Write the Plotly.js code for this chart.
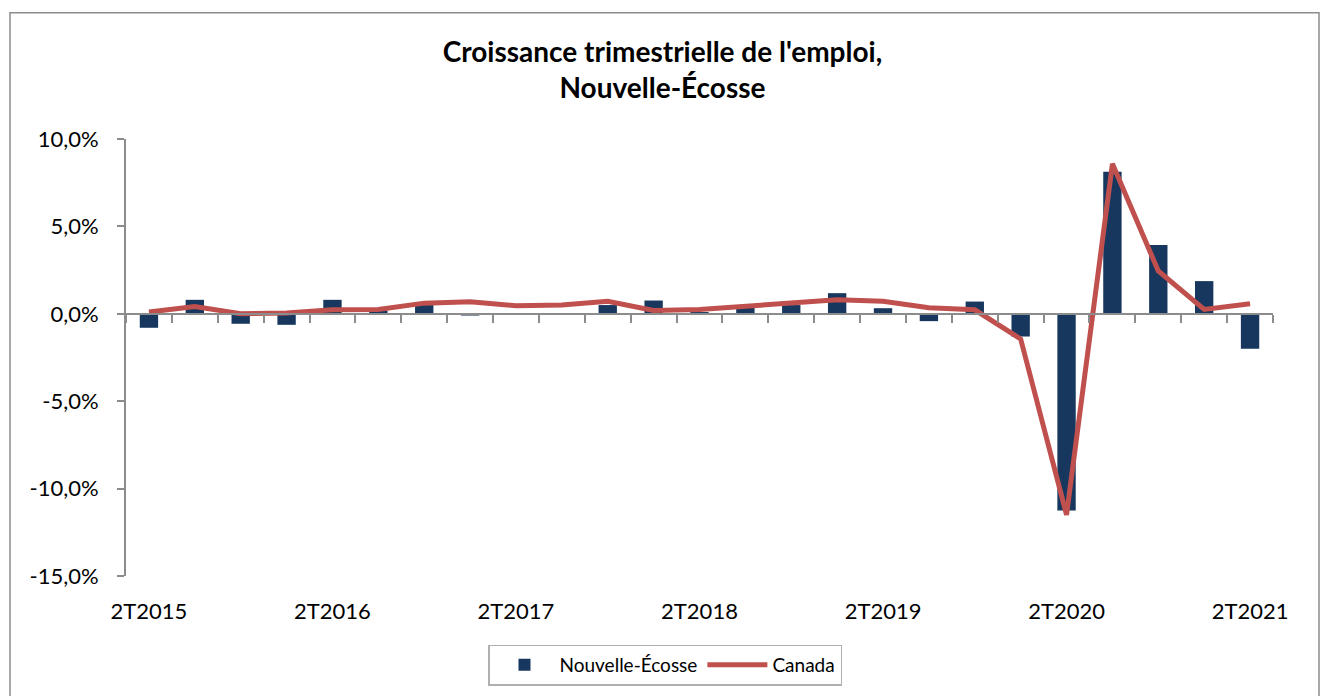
<!DOCTYPE html>
<html>
<head>
<meta charset="utf-8">
<script src="https://cdn.plot.ly/plotly-3.0.1.min.js"></script>
<style>
  html, body { margin: 0; padding: 0; background: #fff; }
  #chart { width: 1325px; height: 696px; }
</style>
</head>
<body>
<div id="chart"></div>
<script>
const quarters = [
  "2T2015","3T2015","4T2015","1T2016",
  "2T2016","3T2016","4T2016","1T2017",
  "2T2017","3T2017","4T2017","1T2018",
  "2T2018","3T2018","4T2018","1T2019",
  "2T2019","3T2019","4T2019","1T2020",
  "2T2020","3T2020","4T2020","1T2021",
  "2T2021"
];
const tickLabels = ["2T2015","2T2016","2T2017","2T2018","2T2019","2T2020","2T2021"];
const novaScotia = [-0.8, 0.8, -0.57, -0.63, 0.8, 0.2, 0.55, -0.1, -0.05, 0.02, 0.5, 0.76, 0.1, 0.4, 0.5, 1.18, 0.32, -0.42, 0.7, -1.3, -11.25, 8.12, 3.93, 1.87, -2.0];
const canada = [0.1, 0.42, 0.0, 0.05, 0.23, 0.25, 0.61, 0.69, 0.46, 0.5, 0.72, 0.19, 0.25, 0.45, 0.6, 0.8, 0.72, 0.35, 0.23, -1.44, -11.5, 8.58, 2.45, 0.25, 0.57];
const yTickVals = [-15, -10, -5, 0, 5, 10];
const yTickText = ["-15,0%", "-10,0%", "-5,0%", "0,0%", "5,0%", "10,0%"];

const font = "Lato, 'Open Sans', sans-serif";

const traces = [
  {
    type: "bar",
    name: "Nouvelle-Écosse",
    x: quarters,
    y: novaScotia,
    xaxis: "x",
    yaxis: "y",
    marker: { color: "#17375E" },
    hoverinfo: "x+y"
  },
  {
    type: "scatter",
    mode: "lines",
    name: "Canada",
    x: quarters,
    y: canada,
    xaxis: "x2",
    yaxis: "y",
    line: { color: "#C0504D", width: 5 },
    hoverinfo: "x+y"
  }
];

const layout = {
  width: 1325,
  height: 696,
  margin: { l: 126, r: 52, t: 139, b: 119 },
  paper_bgcolor: "#ffffff",
  plot_bgcolor: "#ffffff",
  font: { family: font, size: 22, color: "#000" },
  showlegend: true,
  bargap: 0.6,
  title: {
    text: "<b>Croissance trimestrielle de l'emploi,<br>Nouvelle-Écosse</b>",
    font: { family: font, size: 28, color: "#000" },
    x: 0.5, xref: "container", xanchor: "center",
    y: 1 - 62 / 696, yref: "container", yanchor: "top"
  },
  xaxis: {
    type: "category",
    categoryorder: "array",
    categoryarray: quarters,
    range: [-0.5, quarters.length - 0.5],
    tickmode: "array",
    tickvals: tickLabels,
    ticktext: tickLabels,
    showline: false,
    showgrid: false,
    zeroline: false,
    ticks: "",
    ticklabelstandoff: 20,
    tickfont: { family: font, size: 22, color: "#000" },
    fixedrange: true
  },
  xaxis2: {
    type: "category",
    categoryorder: "array",
    categoryarray: quarters,
    range: [-0.5, quarters.length - 0.5],
    overlaying: "x",
    anchor: "free",
    position: 0.6,
    showline: true,
    linecolor: "#8c8c8c",
    linewidth: 2,
    ticks: "outside",
    tickson: "boundaries",
    ticklen: 8,
    tickwidth: 2,
    tickcolor: "#8c8c8c",
    showticklabels: false,
    showgrid: false,
    zeroline: false,
    fixedrange: true
  },
  yaxis: {
    range: [-15, 10],
    tickmode: "array",
    tickvals: yTickVals,
    ticktext: yTickText,
    showline: true,
    linecolor: "#8c8c8c",
    linewidth: 2,
    ticks: "outside",
    ticklen: 7,
    tickwidth: 2,
    tickcolor: "#8c8c8c",
    showgrid: false,
    zeroline: false,
    ticklabelstandoff: 14,
    tickfont: { family: font, size: 22, color: "#000" },
    fixedrange: true
  },
  legend: {
    orientation: "h",
    x: (665 - 126) / 1147,
    xanchor: "center",
    y: (577 - 665) / 438,
    yanchor: "middle",
    bordercolor: "#b0b0b0",
    borderwidth: 1.5,
    bgcolor: "#ffffff",
    font: { family: font, size: 19, color: "#000" },
    itemwidth: 60,
    traceorder: "normal"
  },
  shapes: [
    {
      type: "rect",
      xref: "paper", yref: "paper",
      x0: (10 - 126) / 1147, x1: (1319 - 126) / 1147,
      y0: (577 - 720) / 438, y1: (577 - 12.5) / 438,
      line: { color: "#8c8c8c", width: 1.5 },
      fillcolor: "rgba(0,0,0,0)",
      layer: "below"
    }
  ]
};

Plotly.newPlot("chart", traces, layout, { displayModeBar: false, staticPlot: true });
</script>
</body>
</html>
